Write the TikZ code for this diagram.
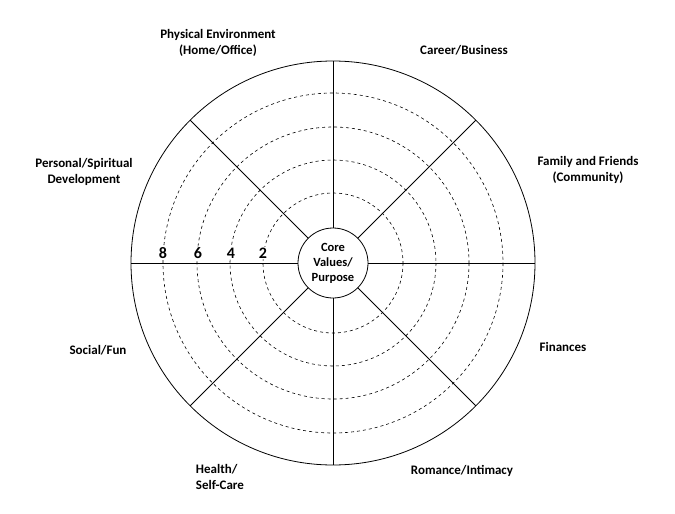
\documentclass[tikz,border=0pt]{standalone}
\usepackage{fontspec}
\setmainfont{Carlito}
\begin{document}
\begin{tikzpicture}[x=1pt,y=-1pt,
  lab/.style={font=\bfseries\fontsize{13}{16}\selectfont,align=center},
  num/.style={font=\bfseries\fontsize{16}{18}\selectfont,fill=white,inner sep=0.5pt},
  ring/.style={dashed,line width=0.6pt},
  spoke/.style={line width=0.8pt}]
\useasboundingbox (0,0) rectangle (675,514);
\coordinate (c) at (333,263);
\draw[line width=0.8pt] (c) circle (202);
\foreach \r in {70,103,136,170} \draw[ring] (c) circle (\r);
\foreach \a in {0,45,...,315} \draw[spoke] (c) ++(\a:35) -- ++(\a:167);
\node[circle,draw,line width=0.8pt,fill=white,minimum size=70,inner sep=0pt,lab,font=\bfseries\fontsize{12.5}{15}\selectfont] (core) at (c) {Core\\Values/\\Purpose};
\node[num] (n8) at (163,253) {8};
\node[num] (n6) at (198,253) {6};
\node[num] (n4) at (231,253) {4};
\node[num] (n2) at (263,253) {2};
\node[lab] (pe) at (218,43) {Physical Environment\\(Home/Office)};
\node[lab] (cb) at (464,50) {Career/Business};
\node[lab] (ff) at (588,170) {Family and Friends\\(Community)};
\node[lab] (ps) at (84,172) {Personal/Spiritual\\Development};
\node[lab] (fi) at (563,347) {Finances};
\node[lab] (sf) at (98,350) {Social/Fun};
\node[lab,align=left] (hs) at (220,477) {Health/\\Self-Care};
\node[lab] (ri) at (462,471) {Romance/Intimacy};
\end{tikzpicture}
\end{document}
